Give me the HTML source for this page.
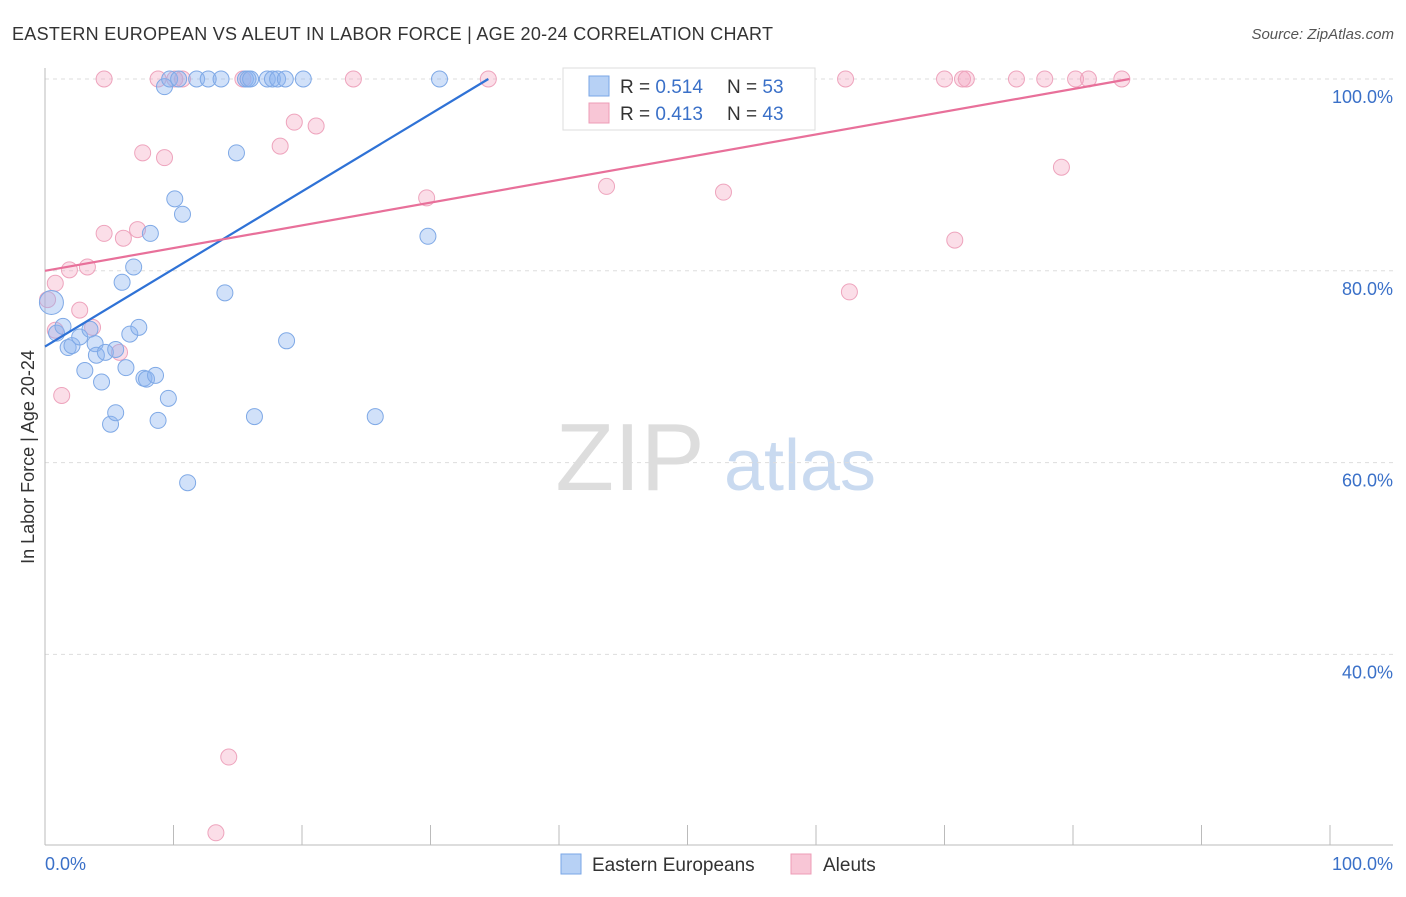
<!DOCTYPE html>
<html><head><meta charset="utf-8"><style>
body{margin:0;background:#fff;font-family:"Liberation Sans",sans-serif;}
svg text{font-family:"Liberation Sans",sans-serif;}
</style></head><body>
<svg id="c" width="1406" height="892" xmlns="http://www.w3.org/2000/svg">
<text x="12" y="40" font-size="18" fill="#333" textLength="761">EASTERN EUROPEAN VS ALEUT IN LABOR FORCE | AGE 20-24 CORRELATION CHART</text>
<text x="1394" y="39" font-size="15" fill="#555" text-anchor="end" font-style="italic">Source: ZipAtlas.com</text>
<text x="630" y="490" font-size="96" fill="#ddd" text-anchor="middle" font-family="Liberation Serif">ZIP</text>
<text x="800" y="490" font-size="72" fill="#c9daf0" text-anchor="middle">atlas</text>
<g id="grid"></g><g id="pts"></g><g id="lines"></g>
<text transform="translate(34,457) rotate(-90)" font-size="18" fill="#333" text-anchor="middle">In Labor Force | Age 20-24</text>
<text x="45" y="870" font-size="18" fill="#3a70c8">0.0%</text>
<text x="1393" y="870" font-size="18" fill="#3a70c8" text-anchor="end">100.0%</text>
<g>
<rect x="563" y="68" width="252" height="62" fill="#fff" stroke="#ddd"/>
<rect x="589" y="76" width="20" height="20" fill="#b7d1f5" stroke="#7aa6e6"/>
<rect x="589" y="103" width="20" height="20" fill="#f8c6d6" stroke="#ee9cb7"/>
<text x="620" y="93" font-size="19" fill="#333">R = <tspan fill="#3a70c8">0.514</tspan></text>
<text x="727" y="93" font-size="19" fill="#333">N = <tspan fill="#3a70c8">53</tspan></text>
<text x="620" y="120" font-size="19" fill="#333">R = <tspan fill="#3a70c8">0.413</tspan></text>
<text x="727" y="120" font-size="19" fill="#333">N = <tspan fill="#3a70c8">43</tspan></text>
</g>
<g>
<rect x="561" y="854" width="20" height="20" fill="#b7d1f5" stroke="#7aa6e6"/>
<text x="592" y="871" font-size="19" fill="#333">Eastern Europeans</text>
<rect x="791" y="854" width="20" height="20" fill="#f8c6d6" stroke="#ee9cb7"/>
<text x="823" y="871" font-size="19" fill="#333">Aleuts</text>
</g>
</svg>
<script>
const blueX=[0.5,0.9,1.4,1.8,2.1,2.7,3.1,3.5,3.9,4.0,4.4,4.7,5.1,5.5,5.5,6.0,6.3,6.6,6.9,7.3,7.7,7.9,8.2,8.6,8.8,9.3,9.6,9.7,10.1,10.4,10.7,11.1,11.8,12.7,13.7,14.0,14.9,15.6,15.8,16.0,16.3,17.3,17.7,18.1,18.7,18.8,20.1,25.7,29.8,30.7,44.7];
const blueY=[76.7,73.5,74.2,72.0,72.2,73.1,69.6,73.9,72.4,71.2,68.4,71.5,64.0,65.2,71.8,78.8,69.9,73.4,80.4,74.1,68.8,68.7,83.9,69.1,64.4,99.2,66.7,100,87.5,100,85.9,57.9,100,100,100,77.7,92.3,100,100,100,64.8,100,100,100,100,72.7,100,64.8,83.6,100,100];
const pinkX=[0.2,0.8,0.8,1.3,1.9,2.7,3.3,3.7,4.6,4.6,5.8,6.1,7.2,7.6,8.8,9.3,10.1,10.7,13.3,14.3,15.4,18.3,19.4,21.1,24.0,29.7,34.5,43.7,47.2,52.8,55.6,62.3,62.6,70.0,70.8,71.4,71.7,75.6,77.8,79.1,80.2,81.2,83.8];
const pinkY=[77.0,78.7,73.8,67.0,80.1,75.9,80.4,74.1,100,83.9,71.5,83.4,84.3,92.3,100,91.8,100,100,21.4,29.3,100,93.0,95.5,95.1,100,87.6,100,88.8,100,88.2,100,100,77.8,100,83.2,100,100,100,100,90.8,100,100,100];
const blueTrend=[[0,72.1],[34.5,100]];
const pinkTrend=[[0,80.0],[84.4,100]];
const yTicks=[100,80,60,40];
const xTicks=[0,10,20,30,40,50,60,70,80,90,100];
const NS="http://www.w3.org/2000/svg";
const X=v=>45+v*12.85, Y=v=>79+(100-v)*9.59;
function mk(t,a,p){const e=document.createElementNS(NS,t);for(const k in a)e.setAttribute(k,a[k]);document.getElementById(p).appendChild(e);return e;}
yTicks.forEach(t=>{const l=mk('line',{x1:45,x2:1393,y1:Y(t),y2:Y(t),stroke:'#ddd','stroke-dasharray':'4,4'},'grid');


const tx=mk('text',{x:1393,y:Y(t)+24,'font-size':18,fill:'#3a70c8','text-anchor':'end'},'grid');tx.textContent=t.toFixed(1)+'%';

});
xTicks.forEach(t=>{const l=mk('line',{x1:X(t),x2:X(t),y1:825,y2:845,stroke:'#bbb'},'grid');

});
let a=mk('line',{x1:45,x2:45,y1:68,y2:845,stroke:'#bbb'},'grid');


a=mk('line',{x1:45,x2:1393,y1:845,y2:845,stroke:'#bbb'},'grid');


pinkX.forEach((x,i)=>{const c=mk('circle',{cx:X(x),cy:Y(pinkY[i]),r:8,fill:'rgba(244,160,190,0.35)',stroke:'#eea4bd','stroke-width':1},'pts');

});
blueX.forEach((x,i)=>{const c=mk('circle',{cx:X(x),cy:Y(blueY[i]),r:i==0?12:8,fill:'rgba(140,180,240,0.4)',stroke:'#7fa9e6','stroke-width':1},'pts');

});
let t=mk('line',{x1:X(blueTrend[0][0]),y1:Y(blueTrend[0][1]),x2:X(blueTrend[1][0]),y2:Y(blueTrend[1][1]),stroke:'#2f72d6','stroke-width':2.2},'lines');


t=mk('line',{x1:X(pinkTrend[0][0]),y1:Y(pinkTrend[0][1]),x2:X(pinkTrend[1][0]),y2:Y(pinkTrend[1][1]),stroke:'#e8709a','stroke-width':2.2},'lines');


</script>
</body></html>
